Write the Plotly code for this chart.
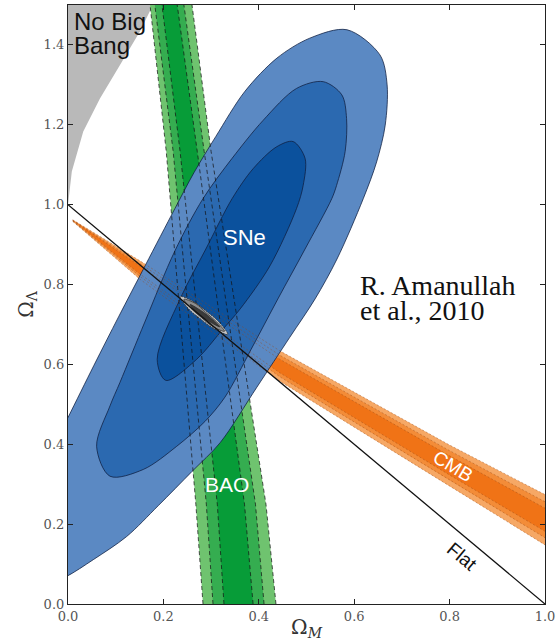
import plotly.graph_objects as go

# ---------------- data ----------------
# "No Big Bang" boundary (Omega_M, Omega_Lambda)
nbb_x = [0.0, 0.008, 0.032, 0.067, 0.109, 0.151, 0.178]
nbb_y = [1.0, 1.083, 1.183, 1.266, 1.350, 1.434, 1.5]

# SNe confidence contours (outer = 99.7%, mid = 95%, inner = 68%)
sne3_x = [0.585, 0.654, 0.669, 0.665, 0.647, 0.619, 0.564, 0.518, 0.465, 0.396, 0.319, 0.260,
          0.189, 0.123, 0.053, -0.003, -0.045, -0.085, -0.098, -0.072, -0.036, 0.000, 0.0545,
          0.106, 0.1625, 0.224, 0.264, 0.310, 0.371, 0.438, 0.507]
sne3_y = [1.438, 1.375, 1.300, 1.199, 1.107, 1.015, 0.864, 0.764, 0.668, 0.543, 0.404, 0.332,
          0.246, 0.169, 0.111, 0.069, 0.048, 0.075, 0.160, 0.300, 0.381, 0.467, 0.598,
          0.719, 0.849, 0.990, 1.080, 1.171, 1.284, 1.367, 1.417]
sne2_x = [0.535, 0.574, 0.584, 0.581, 0.563, 0.553, 0.497, 0.440, 0.384, 0.329, 0.287, 0.228,
          0.158, 0.088, 0.060, 0.088, 0.109, 0.161, 0.224, 0.283, 0.344, 0.409, 0.479]
sne2_y = [1.308, 1.275, 1.216, 1.133, 1.048, 1.015, 0.889, 0.764, 0.638, 0.518, 0.457, 0.395,
          0.337, 0.320, 0.395, 0.496, 0.555, 0.706, 0.884, 1.015, 1.116, 1.211, 1.291]
sne1_x = [0.472, 0.497, 0.493, 0.479, 0.4235, 0.361, 0.321, 0.270, 0.205, 0.187, 0.235, 0.289,
          0.344, 0.388, 0.4375]
sne1_y = [1.158, 1.116, 1.048, 0.990, 0.847, 0.739, 0.683, 0.613, 0.560, 0.613, 0.764, 0.889,
          1.015, 1.090, 1.145]

# BAO bands: left / right Omega_M edges at given Omega_Lambda levels
bao_y = [0.0, 0.25, 1.133, 1.5]
bao3_left = [0.283, 0.268, 0.206, 0.172]
bao3_right = [0.436, 0.415, 0.300, 0.260]
bao2_left = [0.304, 0.290, 0.2205, 0.182]
bao2_right = [0.411, 0.393, 0.2855, 0.243]
bao1_left = [0.327, 0.313, 0.235, 0.197]
bao1_right = [0.388, 0.370, 0.271, 0.229]

# CMB bands: upper / lower Omega_Lambda edges at given Omega_M
cmb_x = [0.01, 0.15, 0.444, 0.80, 1.0]
cmb3_up = [0.962, 0.860, 0.634, 0.398, 0.274]
cmb3_lo = [0.958, 0.814, 0.558, 0.295, 0.148]
cmb2_up = [0.961, 0.853, 0.623, 0.384, 0.256]
cmb2_lo = [0.959, 0.821, 0.569, 0.310, 0.166]
cmb1_up = [0.9605, 0.847, 0.613, 0.371, 0.240]
cmb1_lo = [0.9595, 0.827, 0.579, 0.323, 0.182]

# combined constraint (grey): outer, middle, inner
comb3_x = [0.235, 0.264, 0.290, 0.315, 0.335, 0.304, 0.278, 0.253]
comb3_y = [0.770, 0.7565, 0.733, 0.708, 0.675, 0.691, 0.714, 0.739]
comb2_x = [0.243, 0.268, 0.2885, 0.312, 0.328, 0.303, 0.280, 0.258]
comb2_y = [0.763, 0.752, 0.7305, 0.706, 0.683, 0.695, 0.717, 0.740]
comb1_x = [0.256, 0.2873, 0.318, 0.2808]
comb1_y = [0.750, 0.7275, 0.694, 0.7197]

# flat universe line
flat_x = [0.0, 1.0]
flat_y = [1.0, 0.0]

x_ticks = [0.0, 0.2, 0.4, 0.6, 0.8, 1.0]
x_ticklabels = ["0.0", "0.2", "0.4", "0.6", "0.8", "1.0"]
y_ticks = [0.0, 0.2, 0.4, 0.6, 0.8, 1.0, 1.2, 1.4]
y_ticklabels = ["0.0", "0.2", "0.4", "0.6", "0.8", "1.0", "1.2", "1.4"]

# ---------------- styles ----------------
C_NBB = "#b9b9b9"
C_SNE = ["#5b89c3", "#2b69b0", "#0b519d"]
C_BAO = ["#6fc36f", "#35ad50", "#079c38"]
C_CMB = ["#f6a865", "#f38c38", "#f07316"]
C_COMB = ["#c4c4c4", "#8c8c8c", "#3a3a3a"]
C_EDGE = "rgba(15,30,65,0.85)"

fig = go.Figure()


def closed(xs, ys):
    return list(xs) + [xs[0]], list(ys) + [ys[0]]


def band_v(left, right, ys):
    return list(left) + list(right)[::-1] + [left[0]], list(ys) + list(ys)[::-1] + [ys[0]]


def band_h(xs, up, lo):
    return list(xs) + list(xs)[::-1] + [xs[0]], list(up) + list(lo)[::-1] + [up[0]]


# No Big Bang region
fig.add_trace(go.Scatter(x=nbb_x + [0.0, 0.0], y=nbb_y + [1.5, 1.0], mode="lines",
                         fill="toself", fillcolor=C_NBB, line=dict(width=0, color=C_NBB),
                         hoverinfo="skip"))

# CMB bands
for (up, lo), col in zip([(cmb3_up, cmb3_lo), (cmb2_up, cmb2_lo), (cmb1_up, cmb1_lo)], C_CMB):
    bx, by = band_h(cmb_x, up, lo)
    fig.add_trace(go.Scatter(x=bx, y=by, mode="lines", fill="toself", fillcolor=col,
                             line=dict(width=0, color=col), hoverinfo="skip"))

# BAO bands
for (lf, rt), col in zip([(bao3_left, bao3_right), (bao2_left, bao2_right), (bao1_left, bao1_right)], C_BAO):
    bx, by = band_v(lf, rt, bao_y)
    fig.add_trace(go.Scatter(x=bx, y=by, mode="lines", fill="toself", fillcolor=col,
                             line=dict(width=0, color=col), hoverinfo="skip"))

# SNe contours
for (sx, sy), col in zip([(sne3_x, sne3_y), (sne2_x, sne2_y), (sne1_x, sne1_y)], C_SNE):
    cx, cy = closed(sx, sy)
    fig.add_trace(go.Scatter(x=cx, y=cy, mode="lines", fill="toself", fillcolor=col,
                             line=dict(width=0.9, color=C_EDGE, shape="spline", smoothing=0.9),
                             hoverinfo="skip"))

# BAO dashed edges
for edge in [bao3_left, bao3_right, bao2_left, bao2_right, bao1_left, bao1_right]:
    fig.add_trace(go.Scatter(x=edge, y=bao_y, mode="lines",
                             line=dict(width=0.9, color="rgba(20,20,20,0.8)", dash="4px,3px"),
                             hoverinfo="skip"))

# CMB dotted edges
for edge in [cmb3_up, cmb3_lo, cmb2_up, cmb2_lo, cmb1_up, cmb1_lo]:
    fig.add_trace(go.Scatter(x=cmb_x, y=edge, mode="lines",
                             line=dict(width=0.8, color="rgba(150,70,20,0.5)", dash="2px,2px"),
                             hoverinfo="skip"))

# combined (grey) contours
for (gx, gy), col, dash in zip([(comb3_x, comb3_y), (comb2_x, comb2_y), (comb1_x, comb1_y)],
                               C_COMB, ["2px,1px", "solid", "solid"]):
    cx, cy = closed(gx, gy)
    fig.add_trace(go.Scatter(x=cx, y=cy, mode="lines", fill="toself", fillcolor=col,
                             line=dict(width=0.7, color="#222", shape="spline", dash=dash),
                             hoverinfo="skip"))

# flat line
fig.add_trace(go.Scatter(x=flat_x, y=flat_y, mode="lines",
                         line=dict(width=1.3, color="#111"), hoverinfo="skip"))

SANS = "Liberation Sans, Arial, sans-serif"
SERIF = "Liberation Serif, Times New Roman, serif"
ann = [
    dict(x=0.009, y=1.458, text="No Big", xanchor="left", yanchor="middle",
         font=dict(family=SANS, size=24, color="#111")),
    dict(x=0.009, y=1.398, text="Bang", xanchor="left", yanchor="middle",
         font=dict(family=SANS, size=24, color="#111")),
    dict(x=0.369, y=0.919, text="SNe", font=dict(family=SANS, size=22, color="white")),
    dict(x=0.334, y=0.299, text="BAO", font=dict(family=SANS, size=21, color="white")),
    dict(x=0.808, y=0.345, text="CMB", textangle=31, font=dict(family=SANS, size=19, color="white")),
    dict(x=0.826, y=0.119, text="Flat", textangle=40, font=dict(family=SANS, size=19, color="#111")),
    dict(x=0.608, y=0.797, text="R. Amanullah", xanchor="left", yanchor="middle",
         font=dict(family=SERIF, size=28, color="#111")),
    dict(x=0.608, y=0.736, text="et al., 2010", xanchor="left", yanchor="middle",
         font=dict(family=SERIF, size=28, color="#111")),
]
for a in ann:
    a.update(xref="x", yref="y", showarrow=False)
fig.update_layout(annotations=ann)

TICKFONT = dict(family="DejaVu Serif, serif", size=13, color="#555")
fig.update_layout(
    width=558, height=641,
    margin=dict(l=68, r=13, t=5, b=37),
    paper_bgcolor="white", plot_bgcolor="white",
    showlegend=False,
    xaxis=dict(range=[0, 1], tickvals=x_ticks, ticktext=x_ticklabels, ticks="inside", ticklen=5,
               tickcolor="#222", showline=True, linecolor="#222", linewidth=1.2, mirror="ticks",
               showgrid=False, zeroline=False, tickfont=TICKFONT, automargin=False,
               title=dict(text="Ω<sub><i>M</i></sub>", standoff=2,
                          font=dict(family="DejaVu Serif, serif", size=20, color="#333"))),
    yaxis=dict(range=[0, 1.5], tickvals=y_ticks, ticktext=y_ticklabels, ticks="inside", ticklen=5,
               tickcolor="#222", showline=True, linecolor="#222", linewidth=1.2, mirror="ticks",
               showgrid=False, zeroline=False, tickfont=TICKFONT, automargin=False,
               title=dict(text="Ω<sub>Λ</sub>", standoff=4,
                          font=dict(family="DejaVu Serif, serif", size=20, color="#333"))),
)

fig.write_html("out.html", config={"displayModeBar": False},
               post_script="document.body.style.margin='0';")
